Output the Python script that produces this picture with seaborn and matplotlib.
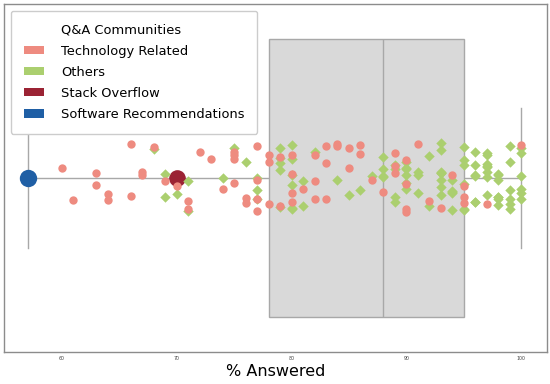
import numpy as np
import matplotlib
matplotlib.use('Agg')
import matplotlib.pyplot as plt
from matplotlib.patches import Patch
import seaborn as sns

# % answered per Q&A community
tech_related = [60, 61, 63, 63, 64, 64, 66, 66, 67, 67, 68, 69, 70, 71, 71, 72, 73, 74,
                75, 75, 75, 75, 76, 76, 77, 77, 77, 77, 78, 78, 78, 79, 79, 80, 80, 80,
                80, 81, 82, 82, 82, 83, 83, 83, 84, 84, 85, 85, 86, 86, 87, 88, 89, 89,
                89, 90, 90, 90, 90, 91, 92, 93, 94, 95, 95, 95, 97, 100]
others = ([68, 69, 69, 70, 71, 71, 74, 75, 76, 77, 77, 77] + [79] * 5 + [80] * 6
          + [81, 81, 82, 84, 85, 86, 87] + [88] * 4 + [89] * 4 + [90] * 6 + [91] * 3
          + [92] * 2 + [93] * 8 + [94] * 5 + [95] * 6 + [96] * 6 + [97] * 8
          + [98] * 7 + [99] * 6 + [100] * 6)
stack_overflow = [70]
software_recs = [57]

all_values = tech_related + others + stack_overflow + software_recs

group_names = ['Technology Related', 'Others', 'Stack Overflow', 'Software Recommendations']
group_colors = ['#ee8b80', '#abcf6f', '#9b2334', '#1f5fa5']

np.random.seed(7)

fig = plt.figure(figsize=(5.5, 3.84), dpi=100)
ax = fig.add_axes([4 / 550, 32 / 384, 543 / 550, 348 / 384])

sns.boxplot(x=all_values, color='#d9d9d9', linecolor='#a8a8a8', linewidth=1,
            showfliers=False, ax=ax)

# big markers for the two highlighted communities
sns.stripplot(x=software_recs, jitter=False, color=group_colors[3], size=12.5,
              zorder=3, ax=ax)
sns.stripplot(x=stack_overflow, jitter=False, color=group_colors[2], size=12,
              zorder=3, ax=ax)

sns.stripplot(x=others, jitter=0.1, color=group_colors[1], marker='D', size=5.3,
              zorder=4, ax=ax)
sns.stripplot(x=tech_related, jitter=0.1, color=group_colors[0], size=6,
              zorder=4, ax=ax)

ax.set_xlim(54.95, 102.25)
ax.set_ylim(0.5, -0.5)
ax.set_yticks([])
ax.set_xticks([60, 70, 80, 90, 100])
ax.tick_params(axis='x', length=0, labelsize=3.4, pad=3, labelcolor='#444444')
ax.set_xlabel('% Answered', fontsize=11.5, labelpad=2)
for s in ax.spines.values():
    s.set_color('#8c8c8c')
    s.set_linewidth(1)

handles = [Patch(facecolor='none', edgecolor='none')]
handles += [Patch(facecolor=c, edgecolor='none') for c in group_colors]
labels = ['Q&A Communities'] + group_names
ax.legend(handles, labels, loc='upper left', fontsize=9.4, handlelength=1.55,
          handleheight=0.6, handletextpad=1.3, labelspacing=0.62, borderpad=1.0,
          borderaxespad=0.5, framealpha=1)

fig.savefig('out.png', dpi=100)
